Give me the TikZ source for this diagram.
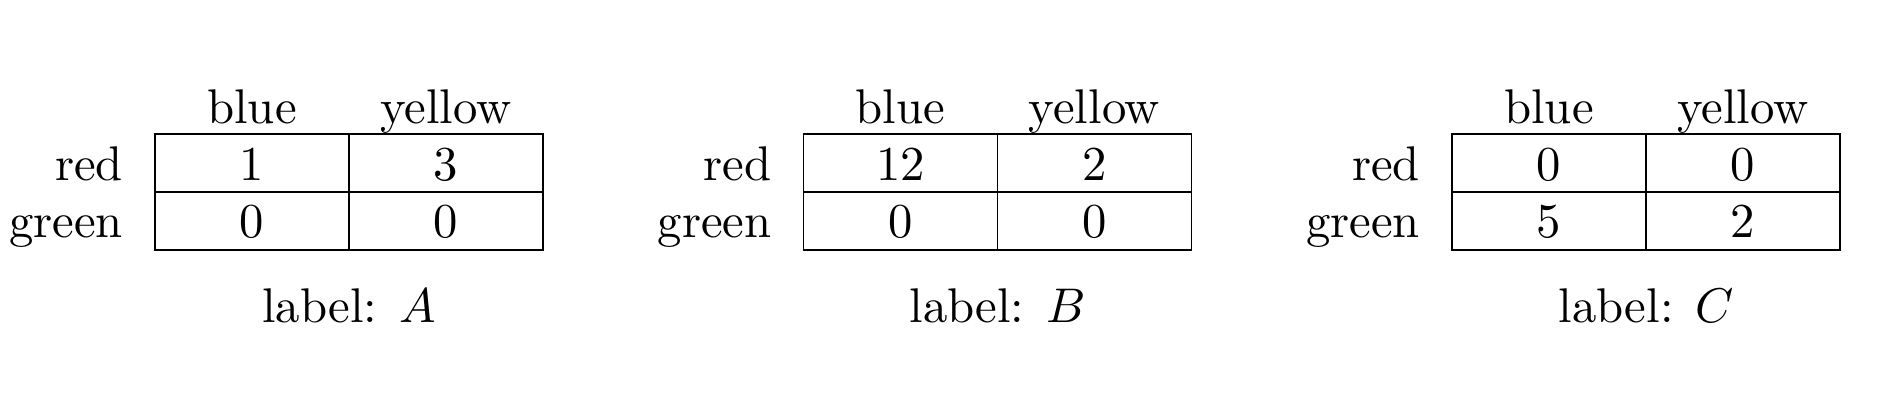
\documentclass[tikz,border=0pt]{standalone}
\begin{document}
\begin{tikzpicture}[x=0.2053pt,y=-0.2053pt,
  txt/.style={inner sep=0pt, anchor=base},
  rowlab/.style={inner sep=0pt, anchor=base east},
  grid/.style={draw=black, line width=0.4pt}]
\useasboundingbox (0,0) rectangle (1894,418);
\foreach \k/\lab/\a/\b/\c/\d in {0/A/1/3/0/0, 1/B/12/2/0/0, 2/C/0/0/5/2} {
  \begin{scope}[xshift={\k*133.14pt}]
    \draw[grid] (155,134) rectangle (543,250);
    \draw[grid] (349,134) -- (349,250);
    \draw[grid] (155,192) -- (543,192);
    \node[txt] (hb\k) at (252,123) {blue};
    \node[txt] (hy\k) at (446,123) {yellow};
    \node[rowlab] (rr\k) at (124,180) {red};
    \node[rowlab] (rg\k) at (124,237) {green};
    \node[txt] (c11\k) at (252,180) {\a};
    \node[txt] (c12\k) at (446,180) {\b};
    \node[txt] (c21\k) at (252,237) {\c};
    \node[txt] (c22\k) at (446,237) {\d};
    \node[txt] (lab\k) at (349,322) {label: $\lab$};
  \end{scope}
}
\end{tikzpicture}
\end{document}
